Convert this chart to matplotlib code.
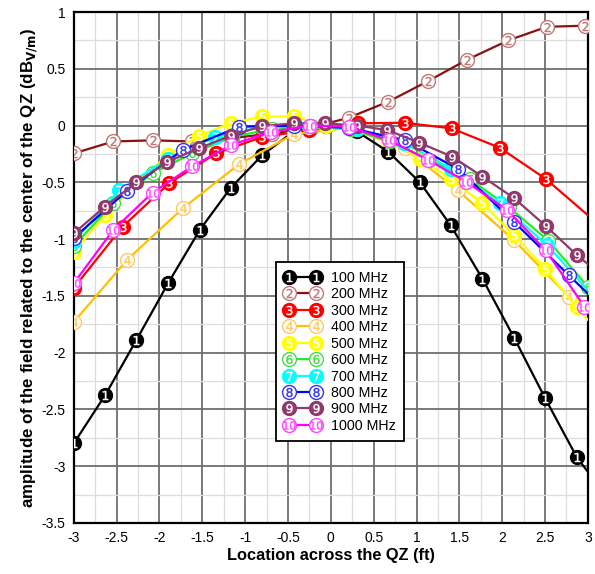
import matplotlib
matplotlib.use('Agg')
import matplotlib.pyplot as plt
from matplotlib.ticker import MultipleLocator, FuncFormatter
from matplotlib.legend_handler import HandlerTuple

plt.rcParams['font.family'] = ['Liberation Sans', 'DejaVu Sans']
plt.rcParams['axes.unicode_minus'] = False

labels = ['100 MHz', '200 MHz', '300 MHz', '400 MHz', '500 MHz',
          '600 MHz', '700 MHz', '800 MHz', '900 MHz', '1000 MHz']

# data (last point of some series is line-only)
x1 = [-3, -2.63, -2.27, -1.90, -1.53, -1.17, -0.80, -0.43, -0.06, 0.30, 0.67, 1.04, 1.40, 1.77, 2.14, 2.50, 2.87, 3.0]
y1 = [-2.80, -2.37, -1.89, -1.39, -0.92, -0.55, -0.26, -0.05, 0.0, -0.05, -0.23, -0.50, -0.88, -1.35, -1.87, -2.40, -2.92, -3.05]
x2 = [-3, -2.54, -2.08, -1.62, -1.15, -0.69, -0.23, 0.21, 0.67, 1.13, 1.59, 2.07, 2.52, 2.97]
y2 = [-0.245, -0.14, -0.13, -0.14, -0.11, -0.07, -0.02, 0.07, 0.21, 0.39, 0.58, 0.75, 0.87, 0.88]
x3 = [-3, -2.43, -1.89, -1.34, -0.80, -0.25, 0.32, 0.86, 1.41, 1.97, 2.51, 3.0]
y3 = [-1.43, -0.89, -0.51, -0.245, -0.10, -0.04, 0.02, 0.025, -0.025, -0.195, -0.47, -0.79]
x4 = [-3, -2.38, -1.73, -1.07, -0.43, 0.21, 0.86, 1.48, 2.14, 2.78, 3.0]
y4 = [-1.73, -1.185, -0.73, -0.34, -0.075, -0.02, -0.20, -0.57, -1.01, -1.51, -1.63]
x5 = [-3, -2.63, -2.27, -1.90, -1.54, -1.17, -0.80, -0.43, -0.06, 0.30, 0.67, 1.04, 1.40, 1.77, 2.14, 2.50, 2.87, 3.0]
y5 = [-1.11, -0.79, -0.50, -0.26, -0.09, 0.02, 0.08, 0.08, 0.0, -0.03, -0.13, -0.29, -0.47, -0.685, -0.965, -1.26, -1.60, -1.71]
x6 = [-3, -2.54, -2.08, -1.62, -1.15, -0.69, -0.23, 0.23, 0.69, 1.15, 1.62, 2.08, 2.54, 3.0]
y6 = [-1.06, -0.685, -0.42, -0.245, -0.10, -0.03, 0.0, -0.03, -0.14, -0.30, -0.47, -0.72, -1.015, -1.42]
x7 = [-3, -2.47, -1.90, -1.35, -0.80, -0.25, 0.30, 0.85, 1.40, 1.97, 2.52, 3.0]
y7 = [-1.02, -0.57, -0.29, -0.10, -0.01, 0.0, -0.03, -0.15, -0.38, -0.685, -1.05, -1.45]
x8 = [-3, -2.38, -1.73, -1.07, -0.43, 0.21, 0.87, 1.49, 2.14, 2.78, 3.0]
y8 = [-0.99, -0.575, -0.215, -0.01, 0.0, -0.02, -0.13, -0.385, -0.85, -1.32, -1.48]
x9 = [-3, -2.64, -2.27, -1.91, -1.54, -1.17, -0.80, -0.43, -0.07, 0.31, 0.66, 1.03, 1.42, 1.77, 2.14, 2.51, 2.87, 3.0]
y9 = [-0.95, -0.715, -0.50, -0.32, -0.20, -0.09, -0.005, 0.02, 0.02, 0.0, -0.04, -0.15, -0.275, -0.45, -0.64, -0.885, -1.14, -1.22]
x10 = [-3, -2.54, -2.08, -1.62, -1.16, -0.70, -0.24, 0.21, 0.68, 1.13, 1.58, 2.06, 2.51, 2.96]
y10 = [-1.39, -0.92, -0.59, -0.36, -0.17, -0.055, 0.0, -0.01, -0.13, -0.30, -0.495, -0.745, -1.10, -1.595]

xs = [x1, x2, x3, x4, x5, x6, x7, x8, x9, x10]
ys = [y1, y2, y3, y4, y5, y6, y7, y8, y9, y10]
line_only_end = [True, False, True, True, True, False, True, True, True, False]

line_col = ['#000000', '#8b1010', '#ff0000', '#ffc000', '#ffff00',
            '#22ee22', '#00ffff', '#0000ff', '#8e3a6a', '#ff00ff']
mark_col = ['#000000', '#c07878', '#ff0000', '#ffc860', '#ffff00',
            '#44dd44', '#00ffff', '#3333ff', '#8e3a6a', '#ff44ff']
filled = [True, False, True, False, True, False, True, False, True, False]

fig = plt.figure(figsize=(5.95, 5.74), dpi=100)
ax = fig.add_axes([0.124, 0.089, 0.864, 0.89])

handles = []
for i in range(10):
    n = len(xs[i])
    me = list(range(n - 1)) if line_only_end[i] else list(range(n))
    fc = mark_col[i] if filled[i] else 'white'
    tc = 'white' if filled[i] else mark_col[i]
    num = str(i + 1)
    l1, = ax.plot(xs[i], ys[i], '-', color=line_col[i], lw=1.6, marker='o', ms=10,
                  mfc=fc, mec=mark_col[i], mew=1.0, markevery=me, zorder=3 + i)
    l2, = ax.plot([xs[i][k] for k in me], [ys[i][k] for k in me], ls='none',
                  marker='$' + num + '$', ms=6.5 if i < 9 else 8.5, mfc=tc, mec=tc,
                  mew=0.3, zorder=3 + i)
    handles.append((l1, l2))

ax.set_xlim(-3, 3)
ax.set_ylim(-3.5, 1)
ax.xaxis.set_major_locator(MultipleLocator(0.5))
ax.xaxis.set_minor_locator(MultipleLocator(0.25))
ax.yaxis.set_major_locator(MultipleLocator(0.5))
ax.yaxis.set_minor_locator(MultipleLocator(0.25))
fmt = FuncFormatter(lambda v, p: '%g' % v if abs(v) > 1e-9 else '0')
ax.xaxis.set_major_formatter(fmt)
ax.yaxis.set_major_formatter(fmt)
ax.grid(which='major', color='#6e6e6e', lw=1.3)
ax.grid(which='minor', color='#dddddd', lw=0.9)
ax.set_axisbelow(True)
ax.tick_params(which='both', length=0, labelsize=10, pad=6)
for s in ax.spines.values():
    s.set_linewidth(1.6)
    s.set_color('black')

ax.set_xlabel('Location across the QZ (ft)', fontsize=11.8, fontweight='bold', labelpad=2)
ax.set_ylabel('amplitude of the field related to the center of the QZ (dB$_{\\mathbf{V/m}}$)',
              fontsize=12.2, fontweight='bold', labelpad=1)

leg = ax.legend(handles, labels, handler_map={tuple: HandlerTuple(ndivide=1, pad=0)},
                numpoints=2, loc='upper left', bbox_to_anchor=(0.394, 0.51),
                fontsize=10.3, frameon=True, fancybox=False, framealpha=1,
                handlelength=2.5, handletextpad=0.7, labelspacing=0.17,
                borderpad=0.6, borderaxespad=0)
leg.get_frame().set_edgecolor('black')
leg.get_frame().set_linewidth(1.3)
leg.set_zorder(20)

plt.savefig('out.png', dpi=100)
